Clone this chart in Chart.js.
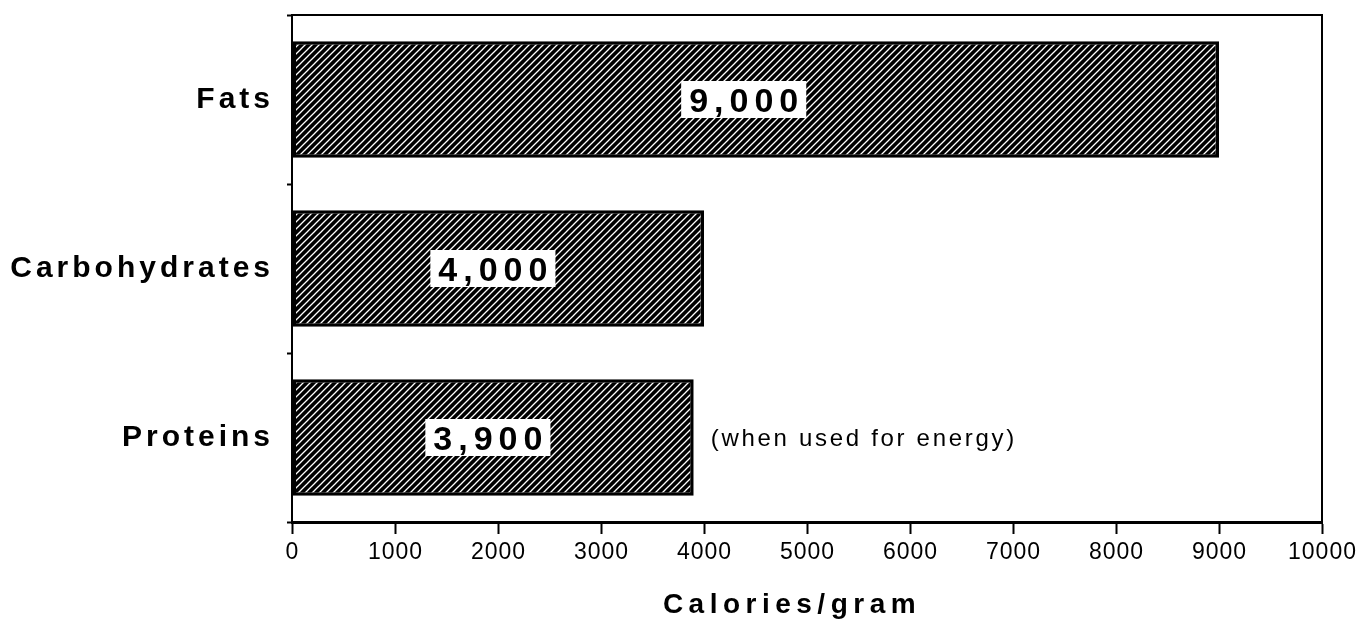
<!DOCTYPE html>
<html><head><meta charset="utf-8">
<script src="https://cdn.jsdelivr.net/npm/chart.js@4.4.0/dist/chart.umd.min.js"></script>
<style>html,body{margin:0;padding:0;background:#fff}</style>
</head><body>
<canvas id="c" width="1363" height="622" style="display:block;width:1363px;height:622px"></canvas>
<script>
// ---- data ----
const categories = ['Fats', 'Carbohydrates', 'Proteins'];
const values = [9000, 4000, 3900];
const valueLabels = ['9,000', '4,000', '3,900'];
const xMin = 0;
const xMax = 10000;
const xStep = 1000;
const axisTitle = 'Calories/gram';
const noteText = '(when used for energy)';
const noteIndex = 2;

// ---- hatch pattern ----
function makeHatch() {
  const s = 7;
  const c = document.createElement('canvas');
  c.width = s; c.height = s;
  const g = c.getContext('2d');
  g.fillStyle = '#000';
  g.fillRect(0, 0, s, s);
  g.strokeStyle = '#fff';
  g.lineWidth = 1.3;
  g.beginPath();
  g.moveTo(-s, s * 2); g.lineTo(s * 2, -s);
  g.moveTo(-s, s); g.lineTo(s, -s);
  g.moveTo(0, s * 2); g.lineTo(s * 2, 0);
  g.stroke();
  return c;
}
const ctx0 = document.getElementById('c').getContext('2d');
const hatch = ctx0.createPattern(makeHatch(), 'repeat');

const FONT = '"Liberation Sans", Arial, sans-serif';

const patchPlugin = {
  id: 'patch',
  beforeDraw(chart) {
    const y = chart.scales.y, x = chart.scales.x;
    if (!y._patched) {
      const oy = y.drawLabels.bind(y);
      y.drawLabels = function (a) { const c = this.ctx; c.save(); c.letterSpacing = '4px'; c.translate(-2, 0); oy(a); c.restore(); };
      y._patched = true;
    }
    if (!x._patched) {
      const ox = x.drawLabels.bind(x);
      x.drawLabels = function (a) { const c = this.ctx; c.save(); c.letterSpacing = '1px'; c.translate(0.5, -2); ox(a); c.restore(); };
      const ot = x.drawTitle.bind(x);
      x.drawTitle = function (a) { const c = this.ctx; c.save(); c.letterSpacing = '5.5px'; c.translate(-15, 0); ot(a); c.restore(); };
      x._patched = true;
    }
  }
};

const framePlugin = {
  id: 'frame',
  afterDatasetsDraw(chart) {
    const { ctx, chartArea: a } = chart;
    ctx.save();
    ctx.strokeStyle = '#000';
    ctx.lineWidth = 2;
    ctx.beginPath();
    ctx.moveTo(a.left, a.top);
    ctx.lineTo(a.right, a.top);
    ctx.lineTo(a.right, a.bottom);
    ctx.stroke();
    ctx.restore();
  }
};

const labelPlugin = {
  id: 'valueLabels',
  afterDatasetsDraw(chart) {
    const ctx = chart.ctx;
    const meta = chart.getDatasetMeta(0);
    ctx.save();
    meta.data.forEach((bar, i) => {
      const cx = bar.base + (bar.x - bar.base) * 0.487;
      ctx.font = 'bold 34px ' + FONT;
      ctx.letterSpacing = '6px';
      const w = ctx.measureText(valueLabels[i]).width - 6;
      ctx.fillStyle = '#fff';
      ctx.fillRect(cx - w / 2 - 8, bar.y - 18.5, w + 16, 37);
      ctx.fillStyle = '#000';
      ctx.textAlign = 'left';
      ctx.textBaseline = 'alphabetic';
      ctx.fillText(valueLabels[i], cx - w / 2, bar.y + 12.5);
    });
    const nb = meta.data[noteIndex];
    ctx.font = '24px ' + FONT;
    ctx.letterSpacing = '2.7px';
    ctx.textAlign = 'left';
    ctx.textBaseline = 'middle';
    ctx.fillStyle = '#000';
    ctx.fillText(noteText, nb.x + 17, nb.y + 2);
    ctx.restore();
  }
};

new Chart(document.getElementById('c'), {
  type: 'bar',
  data: {
    labels: categories,
    datasets: [{
      data: values,
      backgroundColor: hatch,
      borderColor: '#000',
      borderWidth: 3.5,
      borderSkipped: false,
      barPercentage: 0.69,
      categoryPercentage: 1
    }]
  },
  options: {
    indexAxis: 'y',
    responsive: false,
    animation: false,
    devicePixelRatio: 1,
    layout: { padding: { top: 15, right: 41, left: 0, bottom: 0 } },
    plugins: { legend: { display: false }, tooltip: { enabled: false } },
    scales: {
      x: {
        type: 'linear', min: xMin, max: xMax,
        ticks: { stepSize: xStep, color: '#000', font: { family: FONT, size: 23 }, padding: 7, maxRotation: 0, autoSkip: false,
          callback: v => String(v) },
        grid: { drawOnChartArea: false, drawTicks: true, tickLength: 12, tickColor: '#000', tickWidth: 2 },
        border: { color: '#000', width: 3 },
        title: { display: true, text: axisTitle, color: '#000', font: { family: FONT, size: 28, weight: 'bold' }, padding: { top: 4, bottom: 0 } },
        afterFit(s) { s.height = 100; s.paddingLeft = 0; s.paddingRight = 0; }
      },
      y: {
        type: 'category',
        grid: { drawOnChartArea: false, offset: true, drawTicks: true, tickLength: 5, tickColor: '#000', tickWidth: 2 },
        border: { color: '#000', width: 2 },
        ticks: { color: '#000', font: { family: FONT, size: 30, weight: 'bold' }, padding: 11 },
        afterFit(s) { s.width = 292; s.paddingTop = 0; s.paddingBottom = 0; }
      }
    }
  },
  plugins: [patchPlugin, labelPlugin, framePlugin]
});
</script>
</body></html>
